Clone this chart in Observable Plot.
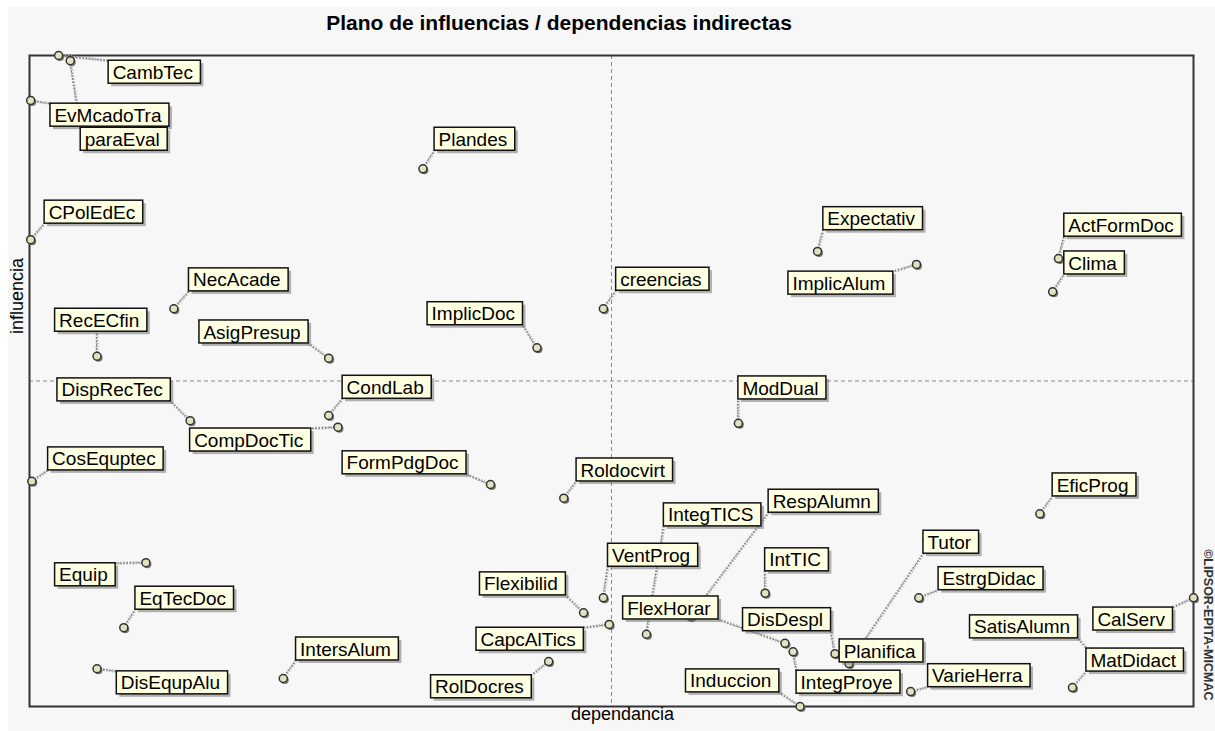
<!DOCTYPE html>
<html><head><meta charset="utf-8">
<script src="https://cdn.jsdelivr.net/npm/d3@7"></script>
<script src="https://cdn.jsdelivr.net/npm/@observablehq/plot@0.6"></script>
<style>
html,body{margin:0;padding:0;background:#fff;overflow:hidden;}
#wrap{position:relative;width:1215px;height:731px;}
#panel{position:absolute;left:8px;top:7px;right:0;bottom:0;background:#f7f7f7;}
#title{position:absolute;left:0;top:11px;width:1118px;text-align:center;font:bold 21px "Liberation Sans",Arial,sans-serif;color:#000;}
#chart{position:absolute;left:0;top:40px;}
</style></head><body>
<div id="wrap"><div id="panel"></div><div id="title">Plano de influencias / dependencias indirectas</div><div id="chart"></div></div>
<script>
// Variables (MICMAC indirect influence / dependence plane)
const names = ["CambTec","paraEval","EvMcadoTra","CPolEdEc","NecAcade","RecECfin","AsigPresup","DispRecTec","CompDocTic","CondLab",
  "CosEquptec","FormPdgDoc","Equip","EqTecDoc","DisEqupAlu","IntersAlum","Plandes","creencias","ImplicDoc","ModDual",
  "Roldocvirt","Flexibilid","VentProg","CapcAlTics","RolDocres","IntegTICS","FlexHorar","RespAlumn","IntTIC","DisDespl",
  "IntegProye","Induccion","Planifica","Tutor","EstrgDidac","VarieHerra","SatisAlumn","MatDidact","CalServ","EficProg",
  "Expectativ","ImplicAlum","ActFormDoc","Clima"];
// dependence (x) and influence (y) (0–100 scale)
const dependence = [2.5,3.5,0.1,0.1,12.4,5.8,25.7,13.8,26.5,25.7,
  0.2,39.6,10.0,8.1,5.8,21.8,33.8,49.3,43.6,60.9,
  45.9,47.6,49.3,49.8,44.6,53.0,64.9,56.8,63.2,69.2,
  65.6,66.2,73.1,70.4,76.4,75.7,91.6,89.6,100.0,86.8,
  67.7,76.2,88.4,87.9];
const influence = [100.0,99.2,93.1,71.7,61.1,53.8,53.5,43.9,42.9,44.7,
  34.6,34.1,22.1,12.1,5.8,4.3,82.6,61.1,55.1,43.5,
  32.0,14.4,16.7,12.6,6.9,11.1,9.7,13.8,17.4,8.1,
  8.4,0.0,8.3,6.6,16.7,2.3,7.4,2.9,16.7,29.6,
  69.9,67.9,68.8,63.7];
// label anchor (top-left corner of each label box), same units
const labelX = [6.8,4.4,1.8,1.3,13.7,2.2,14.6,2.4,13.8,26.9,
  1.6,26.9,2.2,9.1,7.5,22.9,34.8,50.4,34.2,60.9,
  47.0,38.7,49.7,38.4,34.5,54.5,51.0,63.5,63.2,61.3,
  65.9,56.4,69.6,76.8,78.1,77.2,80.8,90.8,91.4,87.9,
  68.2,65.2,88.9,88.9];
const labelY = [99.2,88.9,92.6,77.7,67.3,61.1,59.3,50.4,42.7,50.8,
  39.8,39.2,22.0,18.4,5.4,10.6,88.9,67.4,62.1,50.7,
  38.1,20.6,25.0,12.1,4.8,31.2,16.9,33.3,24.3,15.1,
  5.5,5.7,10.3,27.0,21.4,6.5,14.0,8.9,15.2,35.8,
  76.7,66.8,75.7,69.9];
const meanX = 50, meanY = 50;

const W = 1215, H = 691, mT = 15, mR = 22, mB = 25, mL = 29;
const kx = (W - mL - mR) / 100, ky = (H - mT - mB) / 100;
const FS = 19, PADL = 4, PADR = 8, BH = 23;
const FONT = '"Liberation Sans", Arial, sans-serif';

const ctx = document.createElement("canvas").getContext("2d");
ctx.font = `${FS}px ${FONT}`;
const clamp = (v, a, b) => Math.max(a, Math.min(b, v));

const rows = names.map((name, i) => {
  const bw = ctx.measureText(name).width + PADL + PADR;
  const lx = labelX[i], ly = labelY[i];
  const rx = lx + bw / kx, by = ly - BH / ky;
  const x = dependence[i], y = influence[i];
  return {name, x, y, lx, ly, rx, by, ex: clamp(x, lx, rx), ey: clamp(y, by, ly)};
});

const chart = Plot.plot({
  width: W, height: H,
  marginTop: mT, marginRight: mR, marginBottom: mB, marginLeft: mL,
  x: {domain: [0, 100], axis: null},
  y: {domain: [0, 100], axis: null},
  style: {background: "none", overflow: "visible", fontFamily: FONT},
  marks: [
    Plot.ruleX([meanX], {stroke: "#8a8a8a", strokeDasharray: "4,3"}),
    Plot.ruleY([meanY], {stroke: "#8a8a8a", strokeDasharray: "4,3"}),
    Plot.frame({stroke: "#333", strokeWidth: 2}),
    Plot.link(rows, {x1: "x", y1: "y", x2: "ex", y2: "ey", stroke: "#b0b0b0", strokeWidth: 3, strokeDasharray: "1.5,1.5"}),
    Plot.link(rows, {x1: "x", y1: "y", x2: "ex", y2: "ey", stroke: "#666", strokeWidth: 1, strokeDasharray: "1.5,2", dx: -0.5}),
    Plot.dot(rows, {x: "x", y: "y", r: 4, fill: "#777", stroke: "none", dx: 1.5, dy: 1.5}),
    Plot.dot(rows, {x: "x", y: "y", r: 4, fill: "#e2e2c0", stroke: "#333", strokeWidth: 1.5}),
    Plot.rect(rows, {x1: "lx", x2: "rx", y1: "by", y2: "ly", fill: "#777", fillOpacity: 0.55, dx: 3, dy: 3}),
    Plot.rect(rows, {x1: "lx", x2: "rx", y1: "by", y2: "ly", fill: "#ffffe1", stroke: "#111", strokeWidth: 1.5}),
    Plot.text(rows, {x: "lx", y: "ly", text: "name", dx: PADL, dy: BH / 2 + 0.5, textAnchor: "start", lineAnchor: "middle", fontSize: FS, fill: "#000"}),
    Plot.text(["dependancia"], {text: d => d, frameAnchor: "bottom", dx: 11, dy: 13, fontSize: 18, fill: "#000"}),
    Plot.text(["influencia"], {text: d => d, frameAnchor: "left", rotate: -90, dx: -12, dy: -47, fontSize: 18, fill: "#000"}),
    Plot.text(["©LIPSOR-EPITA-MICMAC"], {text: d => d, frameAnchor: "bottom-right", rotate: 90, textAnchor: "end", dx: 10, dy: -6, fontSize: 12.5, fontWeight: "bold", fill: "#333"})
  ]
});
document.getElementById("chart").appendChild(chart);
</script>
</body></html>
